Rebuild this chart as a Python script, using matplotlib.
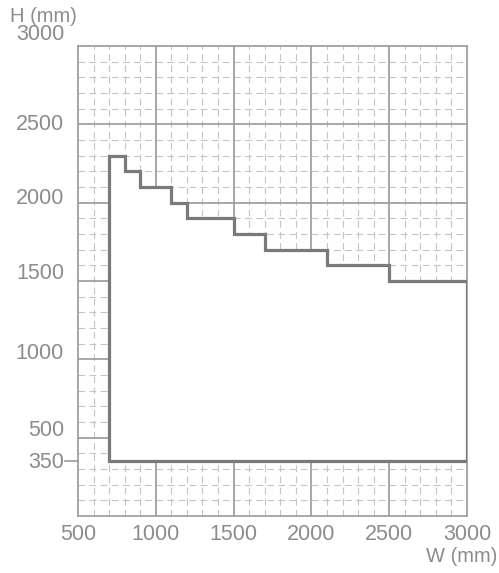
import numpy as np
import matplotlib.pyplot as plt
from matplotlib.transforms import offset_copy

# Usable size envelope: width W vs height H (mm)
step_w = [700, 700, 800, 800, 900, 900, 1100, 1100, 1200, 1200, 1500, 1500,
          1700, 1700, 2100, 2100, 2500, 2500, 3000, 3000]
step_h = [350, 2300, 2300, 2200, 2200, 2100, 2100, 2000, 2000, 1900, 1900, 1800,
          1800, 1700, 1700, 1600, 1600, 1500, 1500, 350]

x_ticks = [500, 1000, 1500, 2000, 2500, 3000]
y_ticks = [350, 500, 1000, 1500, 2000, 2500, 3000]
# vertical pixel shift of each y label relative to its line
y_label_shift = {350: -1, 500: 7, 1000: 6, 1500: 7, 2000: 4, 2500: 0, 3000: 11}

txt_color = '#8c8c8c'
major_color = '#9a9a9a'
minor_color = '#c4c4c4'
edge_color = '#7a7a7a'
font = 'Liberation Sans'

fig = plt.figure(figsize=(4.99, 5.73), dpi=100)
ax = fig.add_axes([78 / 499, 1 - 516 / 573, 389 / 499, 470 / 573])
ax.set_xlim(500, 3000)
ax.set_ylim(0, 3000)

# minor dashed grid every 100 mm
for v in range(600, 3000, 100):
    if v % 500:
        ax.axvline(v, color=minor_color, lw=0.8, ls=(0, (6, 4)), zorder=1)
for v in range(100, 3000, 100):
    if v % 500:
        ax.axhline(v, color=minor_color, lw=0.8, ls=(0, (6, 4)), zorder=1)

# major grid every 500 mm
for v in range(1000, 3000, 500):
    ax.axvline(v, color=major_color, lw=1.2, zorder=2)
for v in range(500, 3000, 500):
    ax.axhline(v, color=major_color, lw=1.2, zorder=2)

ax.fill(step_w, step_h, facecolor='white', edgecolor=edge_color, lw=2.3,
        joinstyle='miter', zorder=3)

for s in ax.spines.values():
    s.set_color(major_color)
    s.set_linewidth(1.2)

ax.set_xticks([])
ax.set_yticks([])

# y labels
for v in y_ticks:
    tr = offset_copy(ax.get_yaxis_transform(), fig=fig, x=-14, y=y_label_shift[v], units='dots')
    ax.text(0, v, str(v), transform=tr, ha='right', va='center',
            fontsize=15.5, color=txt_color, family=font)
# short tick at 350
ax.plot([-0.033, 0], [350, 350], transform=ax.get_yaxis_transform(),
        color=major_color, lw=1.2, clip_on=False)

# x labels
for v in x_ticks:
    tr = offset_copy(ax.get_xaxis_transform(), fig=fig, y=-18, units='dots')
    ax.text(v, 0, str(v), transform=tr, ha='center', va='center',
            fontsize=15.5, color=txt_color, family=font)

fig.text(10 / 499, 1 - 16 / 573, 'H (mm)', ha='left', va='center', fontsize=14.5,
         color=txt_color, family=font)
fig.text(497 / 499, 1 - 556 / 573, 'W (mm)', ha='right', va='center', fontsize=14.5,
         color=txt_color, family=font)

fig.savefig('out.png', dpi=100)
